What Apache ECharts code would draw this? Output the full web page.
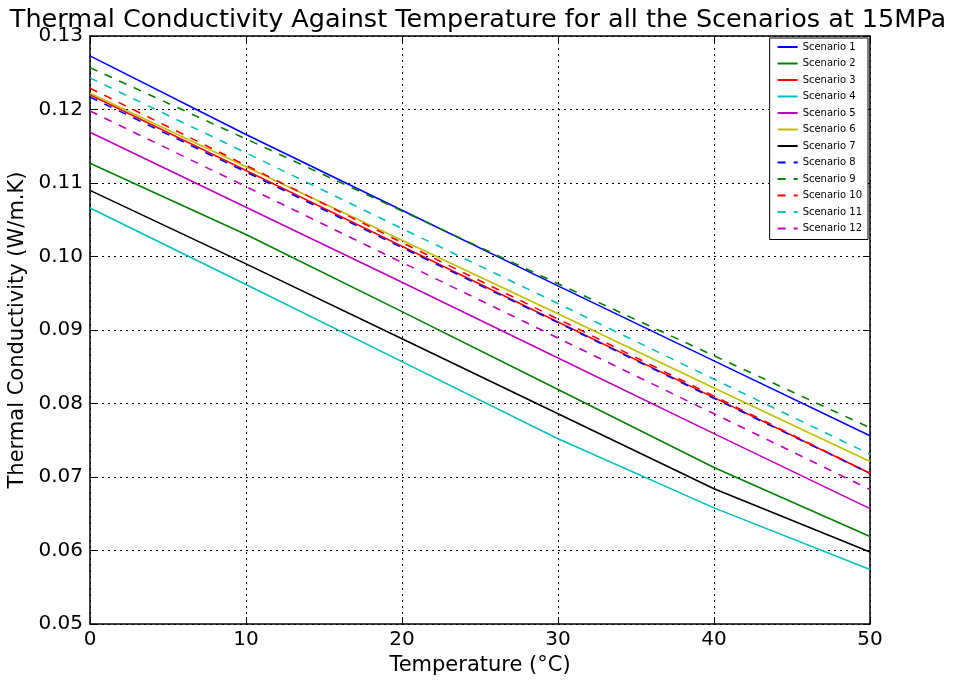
<!DOCTYPE html>
<html>
<head>
<meta charset="utf-8">
<title>Thermal Conductivity</title>
<script src="https://cdn.jsdelivr.net/npm/echarts@6/dist/echarts.min.js"></script>
<style>
  html, body { margin: 0; padding: 0; background: #fff; }
  #chart { width: 956px; height: 683px; }
</style>
</head>
<body>
<div id="chart"></div>
<script>
  // temperatures (°C)
  const temps = [0, 10, 20, 30, 40, 50];

  const scenarioNames = ['Scenario 1', 'Scenario 2', 'Scenario 3', 'Scenario 4', 'Scenario 5', 'Scenario 6',
    'Scenario 7', 'Scenario 8', 'Scenario 9', 'Scenario 10', 'Scenario 11', 'Scenario 12'];

  // thermal conductivity (W/m.K)
  const s1  = [0.1273, 0.1166, 0.1063, 0.0960, 0.0858, 0.0756];
  const s2  = [0.1127, 0.1030, 0.0925, 0.0819, 0.0713, 0.0619];
  const s3  = [0.1220, 0.1117, 0.1014, 0.0911, 0.0808, 0.0705];
  const s4  = [0.1066, 0.0962, 0.0857, 0.0752, 0.0658, 0.0574];
  const s5  = [0.1169, 0.1067, 0.0965, 0.0862, 0.0759, 0.0657];
  const s6  = [0.1222, 0.1122, 0.1022, 0.0922, 0.0821, 0.0721];
  const s7  = [0.1090, 0.0990, 0.0888, 0.0786, 0.0684, 0.0598];
  const s8  = [0.1217, 0.1115, 0.1012, 0.0910, 0.0807, 0.0705];
  const s9  = [0.1257, 0.1160, 0.1062, 0.0963, 0.0865, 0.0767];
  const s10 = [0.1229, 0.1124, 0.1019, 0.0915, 0.0810, 0.0705];
  const s11 = [0.1243, 0.1141, 0.1038, 0.0936, 0.0833, 0.0731];
  const s12 = [0.1198, 0.1095, 0.0992, 0.0889, 0.0786, 0.0683];
  const allValues = [s1, s2, s3, s4, s5, s6, s7, s8, s9, s10, s11, s12];

  // matplotlib classic colours: b g r c m y k, then dashed b g r c m
  const colors = ['#0000ff', '#008000', '#ff0000', '#00bfbf', '#bf00bf', '#bfbf00', '#000000',
    '#0000ff', '#008000', '#ff0000', '#00bfbf', '#bf00bf'];

  const font = 'DejaVu Sans';

  let series = allValues.map((vals, i) => ({
    name: scenarioNames[i],
    type: 'line',
    symbol: 'none',
    data: vals.map((v, j) => [temps[j], v]),
    lineStyle: {
      color: colors[i],
      width: 1.6,
      type: i >= 7 ? [8, 8] : 'solid'
    },
    itemStyle: { color: colors[i] }
  }));

  const innerTick = { show: true, inside: true, length: 7, lineStyle: { color: '#000', width: 1 } };
  const frameLine = { show: true, onZero: false, lineStyle: { color: '#000', width: 1.5 } };
  const dotted = { show: true, lineStyle: { color: '#000', type: [2, 4], width: 1 } };

  let chart = echarts.init(document.getElementById('chart'));
  chart.setOption({
    animation: false,
    backgroundColor: '#fff',
    textStyle: { fontFamily: font },
    title: {
      text: 'Thermal Conductivity Against Temperature for all the Scenarios at 15MPa',
      left: 'center',
      top: 2,
      textStyle: { fontFamily: font, fontSize: 25.5, fontWeight: 'normal', color: '#000' }
    },
    legend: {
      orient: 'vertical',
      right: 88,
      top: 38,
      padding: [4, 6, 6, 7],
      itemWidth: 20,
      itemHeight: 8,
      itemGap: 6.5,
      borderColor: '#000',
      borderWidth: 1,
      backgroundColor: '#fff',
      itemStyle: { opacity: 0 },
      textStyle: { fontFamily: font, fontSize: 10, color: '#000' },
      data: scenarioNames
    },
    grid: { left: 90, right: 86, top: 36, bottom: 59, outerBoundsMode: 'none' },
    xAxis: [
      {
        type: 'value', min: 0, max: 50, interval: 10,
        name: 'Temperature (°C)', nameLocation: 'middle', nameGap: 29,
        nameTextStyle: { fontFamily: font, fontSize: 21, color: '#000' },
        axisLine: frameLine, axisTick: innerTick,
        axisLabel: { fontFamily: font, fontSize: 20, color: '#000', margin: 6 },
        splitLine: dotted
      },
      {
        type: 'value', min: 0, max: 50, interval: 10, position: 'top',
        axisLine: frameLine, axisTick: innerTick,
        axisLabel: { show: false }, splitLine: { show: false }
      }
    ],
    yAxis: [
      {
        type: 'value', min: 0.05, max: 0.13, interval: 0.01,
        name: 'Thermal Conductivity (W/m.K)', nameLocation: 'middle', nameGap: 61,
        nameTextStyle: { fontFamily: font, fontSize: 21, color: '#000' },
        axisLine: frameLine, axisTick: innerTick,
        axisLabel: { fontFamily: font, fontSize: 20, color: '#000', margin: 7, formatter: v => v.toFixed(2) },
        splitLine: dotted
      },
      {
        type: 'value', min: 0.05, max: 0.13, interval: 0.01, position: 'right',
        axisLine: frameLine, axisTick: innerTick,
        axisLabel: { show: false }, splitLine: { show: false }
      }
    ],
    series: series
  });
</script>
</body>
</html>
